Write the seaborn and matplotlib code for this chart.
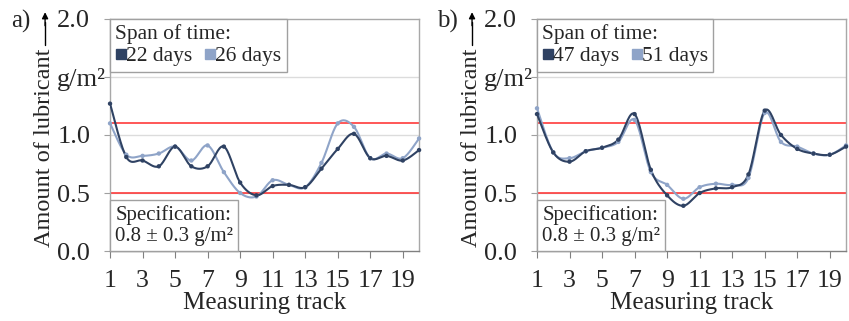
import numpy as np
import pandas as pd
import matplotlib.pyplot as plt
import seaborn as sns
from matplotlib.lines import Line2D
from matplotlib.offsetbox import AnchoredText

tracks = list(range(1, 21))

# panel a
days_22 = [1.27, 0.81, 0.78, 0.73, 0.90, 0.73, 0.73, 0.90, 0.59, 0.48,
           0.56, 0.57, 0.55, 0.71, 0.88, 1.01, 0.80, 0.82, 0.78, 0.87]
days_26 = [1.10, 0.83, 0.82, 0.84, 0.90, 0.78, 0.91, 0.68, 0.50, 0.47,
           0.61, 0.57, 0.55, 0.76, 1.10, 1.07, 0.80, 0.84, 0.80, 0.97]
# panel b
days_47 = [1.18, 0.85, 0.77, 0.86, 0.89, 0.96, 1.18, 0.70, 0.48, 0.39,
           0.50, 0.54, 0.55, 0.66, 1.21, 1.00, 0.88, 0.84, 0.83, 0.90]
days_51 = [1.23, 0.85, 0.80, 0.86, 0.89, 0.94, 1.13, 0.68, 0.57, 0.45,
           0.55, 0.58, 0.57, 0.63, 1.19, 0.94, 0.90, 0.84, 0.83, 0.91]

spec_low, spec_high = 0.5, 1.1
dark = "#2f4263"
light = "#8fa4c8"


def smooth(x, y, n=20):
    # excel-like smoothed line (bezier through the points)
    x = np.asarray(x, float)
    y = np.asarray(y, float)
    px = np.concatenate([[x[0]], x, [x[-1]]])
    py = np.concatenate([[y[0]], y, [y[-1]]])
    xs, ys = [], []
    t = np.linspace(0, 1, n)
    for i in range(1, len(px) - 2):
        p0 = np.array([px[i], py[i]])
        p3 = np.array([px[i + 1], py[i + 1]])
        p1 = p0 + (np.array([px[i + 1], py[i + 1]]) - np.array([px[i - 1], py[i - 1]])) / 6
        p2 = p3 - (np.array([px[i + 2], py[i + 2]]) - np.array([px[i], py[i]])) / 6
        b = ((1 - t) ** 3)[:, None] * p0 + (3 * (1 - t) ** 2 * t)[:, None] * p1 \
            + (3 * (1 - t) * t ** 2)[:, None] * p2 + (t ** 3)[:, None] * p3
        xs.extend(b[:, 0])
        ys.extend(b[:, 1])
    return xs, ys


sns.set_style("white")
plt.rcParams['font.family'] = ['Liberation Serif', 'DejaVu Serif']

fig = plt.figure(figsize=(8.49, 3.21), dpi=100)
panels = [
    (0.1296, "a)", ("22 days", days_22), ("26 days", days_26)),
    (0.6325, "b)", ("47 days", days_47), ("51 days", days_51)),
]

for left, tag, s1, s2 in panels:
    ax = fig.add_axes([left, 0.218, 0.364, 0.723])
    for y in [0.5, 1.0, 1.5]:
        ax.axhline(y, color="#dcdcdc", lw=1, zorder=0)
    ax.axhline(spec_high, color="#ff2a2a", lw=1.1, zorder=1)
    ax.axhline(spec_low, color="#ff2a2a", lw=1.1, zorder=1)

    for (name, vals), col in [(s2, light), (s1, dark)]:
        sx, sy = smooth(tracks, vals)
        sns.lineplot(x=sx, y=sy, ax=ax, color=col, lw=1.5, sort=False,
                     estimator=None, zorder=3)
        sns.scatterplot(x=tracks, y=vals, ax=ax, color=col, s=10,
                        edgecolor="none", zorder=4, clip_on=False)

    ax.set_xlim(1, 20)
    ax.set_ylim(0, 2)
    ax.set_xticks(range(1, 20, 2))
    ax.set_yticks([0, 0.5, 1.0, 1.5, 2.0])
    ax.set_yticklabels(["0.0", "0.5", "1.0", "g/m²", "2.0"], ha="left")
    ax.tick_params(axis="x", direction="out", length=5, width=0.8,
                   color="#808080", pad=9, labelsize=18.5, bottom=True)
    ax.tick_params(axis="y", direction="out", length=4, width=0.8,
                   color="#a0a0a0", pad=34, labelsize=19, left=True)
    for sp in ax.spines.values():
        sp.set_color("#a8a8a8")
        sp.set_linewidth(1)
    ax.spines["bottom"].set_color("#808080")
    ax.set_xlabel("Measuring track", fontsize=18, labelpad=0)
    ax.set_ylabel("")

    handles = [Line2D([], [], marker="s", ls="none", color=dark, markersize=7),
               Line2D([], [], marker="s", ls="none", color=light, markersize=7)]
    leg = ax.legend(handles, [s1[0], s2[0]], title="Span of time:", ncol=2,
                    loc="upper left", borderaxespad=0, fontsize=15.5,
                    title_fontsize=15.5, frameon=True, fancybox=False,
                    handlelength=0.5, handletextpad=0.0, columnspacing=0.55,
                    borderpad=0.25, labelspacing=0.1)
    leg._legend_box.align = "left"
    leg.get_frame().set_edgecolor("#a0a0a0")
    leg.get_frame().set_linewidth(1)
    leg.get_frame().set_alpha(1)

    at = AnchoredText("Specification:\n0.8 ± 0.3 g/m²", loc="lower left",
                      borderpad=0, pad=0.25, frameon=True,
                      prop=dict(fontsize=15, linespacing=1.15))
    at.patch.set_edgecolor("#a0a0a0")
    at.patch.set_linewidth(1)
    at.patch.set_boxstyle("square", pad=0)
    at.zorder = 5
    ax.add_artist(at)

    fx = left - 0.0775
    fig.text(fx, 0.232, "Amount of lubricant", rotation=90, fontsize=17.5,
             ha="center", va="bottom")
    fig.add_artist(plt.Line2D([fx + 0.001] * 2, [0.86, 0.93],
                              color="black", lw=1))
    ax.annotate("", xy=(fx + 0.001, 0.962), xytext=(fx + 0.001, 0.92),
                xycoords="figure fraction", textcoords="figure fraction",
                annotation_clip=False,
                arrowprops=dict(arrowstyle="-|>", lw=1, color="black",
                                mutation_scale=9, shrinkA=0, shrinkB=0))
    fig.text(left - 0.105, 0.932, tag, fontsize=18, ha="center", va="center")

fig.savefig("out.png", dpi=100)
